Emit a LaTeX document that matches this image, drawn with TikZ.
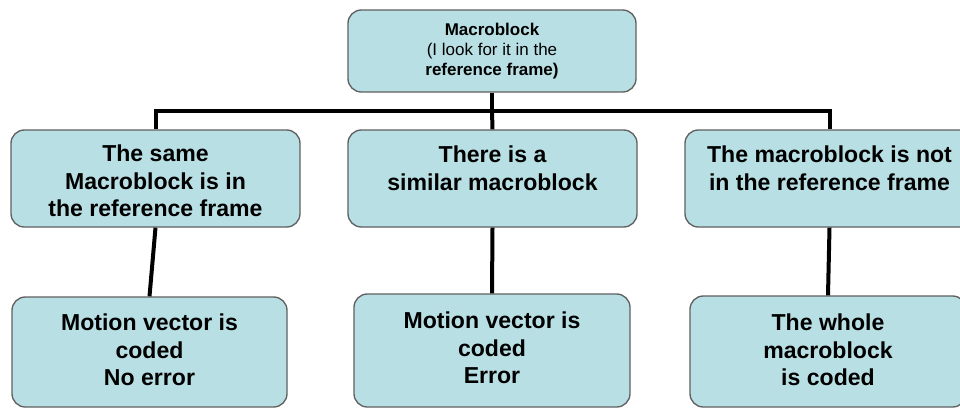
\documentclass[tikz,border=0pt]{standalone}
\usepackage{fontspec}
\setmainfont{Liberation Sans}
\definecolor{boxfill}{RGB}{184,223,228}
\definecolor{boxline}{RGB}{96,96,96}
\tikzset{
  box/.style={draw=boxline, line width=1pt, fill=boxfill, rounded corners=10pt, inner sep=0pt},
  big/.style={font=\bfseries\fontsize{17.3}{20.8}\selectfont, align=center, inner sep=0pt},
  small/.style={font=\fontsize{12.75}{15}\selectfont, align=center, inner sep=0pt},
  conn/.style={line width=3pt, black}
}
\begin{document}
\begin{tikzpicture}[x=0.75pt,y=-0.75pt]
\useasboundingbox (0,0) rectangle (960,408);
\begin{scope}
\clip (0,0) rectangle (960,408);
% boxes
\node[box, minimum width=288*0.75pt, minimum height=82*0.75pt] (top) at (492,51) {};
\node[box, minimum width=289*0.75pt, minimum height=97*0.75pt] (m1) at (155.5,178.5) {};
\node[box, minimum width=289*0.75pt, minimum height=97*0.75pt] (m2) at (492.5,178.5) {};
\node[box, minimum width=289*0.75pt, minimum height=97*0.75pt] (m3) at (829.5,178.5) {};
\node[box, minimum width=275*0.75pt, minimum height=110*0.75pt] (b1) at (149.5,352) {};
\node[box, minimum width=276*0.75pt, minimum height=113*0.75pt] (b2) at (492,350.5) {};
\node[box, minimum width=276*0.75pt, minimum height=111*0.75pt] (b3) at (828,351.5) {};
% texts
\node[small] (topt) at (492,51) {\textbf{Macroblock}\\(I look for it in the\\\textbf{reference frame)}};
\node[big] (m1t) at (155.5,181) {The same\\Macroblock is in\\the reference frame};
\node[big] (m2t) at (492.5,168) {There is a\\similar macroblock};
\node[big] (m3t) at (829.5,168) {The macroblock is not\\in the reference frame};
\node[big] (b1t) at (149.5,350) {Motion vector is\\coded\\No error};
\node[big] (b2t) at (492,348) {Motion vector is\\coded\\Error};
\node[big] (b3t) at (828,350) {The whole\\macroblock\\is coded};
% connectors
\coordinate (bar) at (492,111);
\draw[conn] (top.south) -- (bar);
\draw[conn, line cap=rect] (m1.north |- bar) -- (m3.north |- bar);
\draw[conn] (m1.north |- bar) -- (m1.north);
\draw[conn] (bar) -- (m2.north);
\draw[conn] (m3.north |- bar) -- (m3.north);
\draw[conn] (m1.south) -- (b1.north);
\draw[conn] (m2.south) -- (b2.north);
\draw[conn] (m3.south) -- (b3.north);
\end{scope}
\end{tikzpicture}
\end{document}
